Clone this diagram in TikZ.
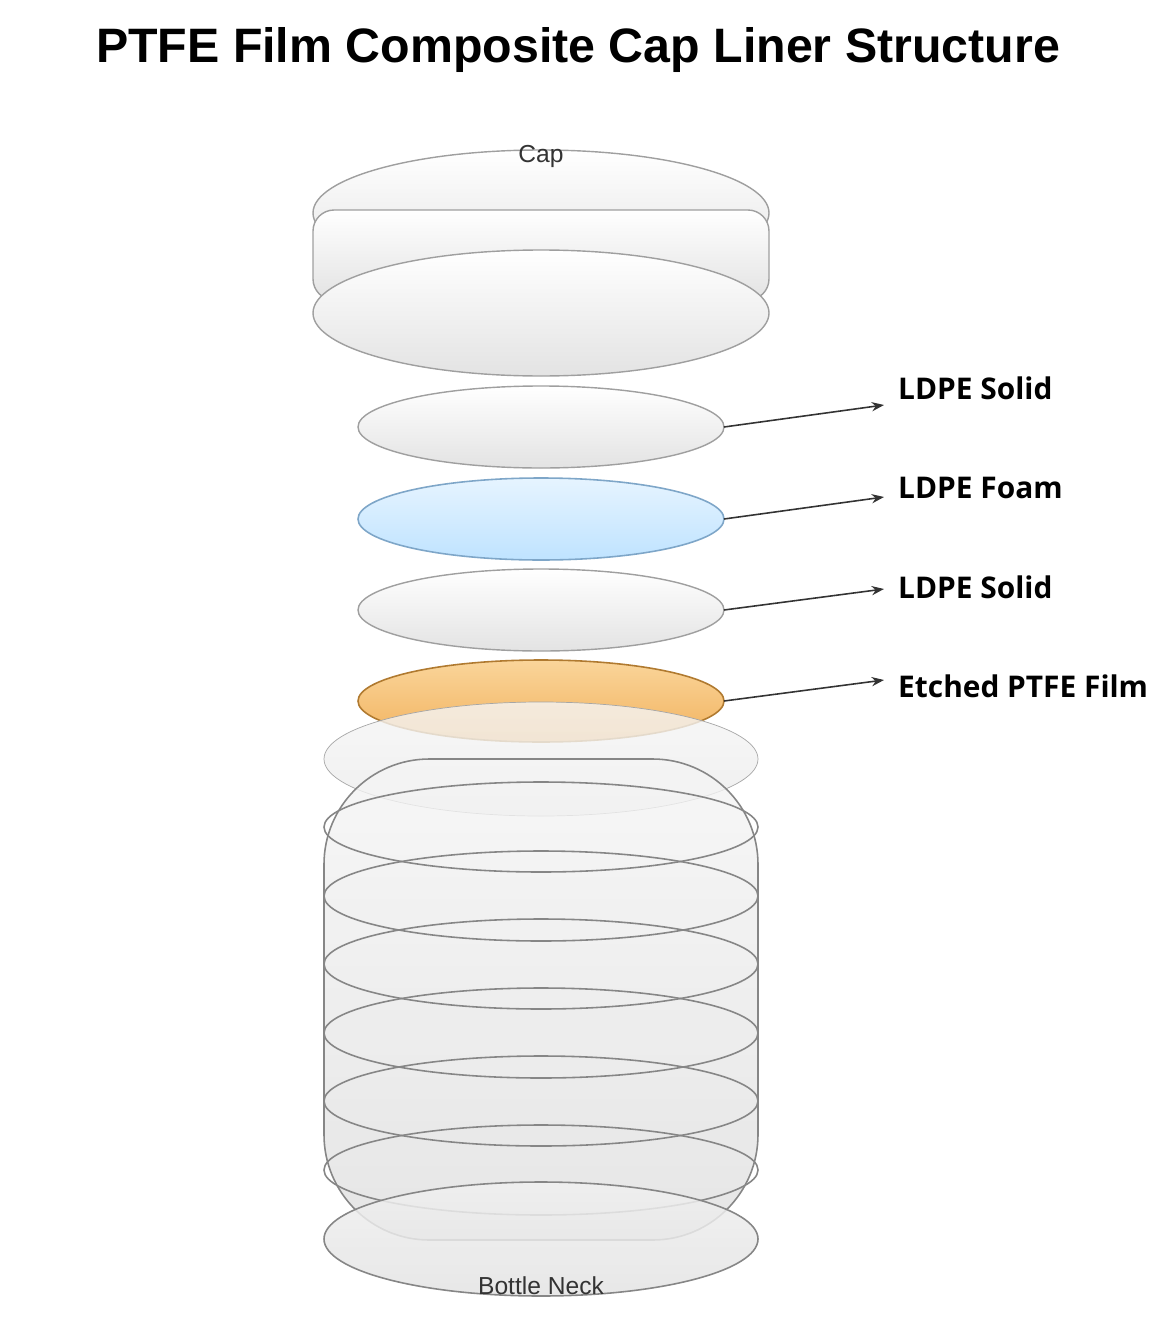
\documentclass[tikz,border=0pt]{standalone}
\usepackage{fontspec}
\setmainfont{Liberation Sans}
\newfontfamily\labelfont{Open Sans}
\usetikzlibrary{positioning, arrows.meta}
\definecolor{foamtop}{HTML}{E6F4FF}
\definecolor{foambot}{HTML}{BFE3FF}
\definecolor{foamline}{HTML}{7EA6C8}
\definecolor{ptfetop}{HTML}{FAD59A}
\definecolor{ptfebot}{HTML}{F2B25E}
\definecolor{ptfeline}{HTML}{B07A30}
\begin{document}
\begin{tikzpicture}[x=0.02cm, y=-0.02cm,
    disk/.style={draw=gray!75, line width=0.8pt, top color=white, bottom color=gray!22},
    neck/.style={draw=gray!95, line width=0.9pt},
    layer/.style={font=\labelfont\bfseries\fontsize{17}{20}\selectfont, anchor=west},
    pointer/.style={-{Stealth[length=7pt]}, draw=black!80, line width=0.9pt}
  ]
  \useasboundingbox (0,0) rectangle (1162,1318);
  \node[font=\bfseries\fontsize{27.5}{32}\selectfont] (title) at (578,50) {PTFE Film Composite Cap Liner Structure};

  % cap
  \draw[disk] (541,213) ellipse (228 and 63);
  \draw[disk, rounded corners=12] (313,210) rectangle (769,300);
  \draw[disk] (541,313) ellipse (228 and 63);
  \node[font=\fontsize{14}{16}\selectfont, text=black!80] (cap) at (541,156) {Cap};

  % liner layers
  \draw[disk] (541,427) ellipse (183 and 41);
  \draw[draw=foamline, line width=0.9pt, top color=foamtop, bottom color=foambot] (541,519) ellipse (183 and 41);
  \draw[disk] (541,610) ellipse (183 and 41);
  \draw[draw=ptfeline, line width=0.9pt, top color=ptfetop, bottom color=ptfebot] (541,701) ellipse (183 and 41);
  \coordinate (d1) at (724,427);
  \coordinate (d2) at (724,519);
  \coordinate (d3) at (724,610);
  \coordinate (d4) at (724,701);
  \coordinate (t1) at (884,405);
  \coordinate (t2) at (884,497);
  \coordinate (t3) at (884,589);
  \coordinate (t4) at (884,680);

  \node[layer] (solidA) at (892,388) {LDPE Solid};
  \node[layer] (foam) at (892,488) {LDPE Foam};
  \node[layer] (solidB) at (892,587) {LDPE Solid};
  \node[layer] (ptfe) at (892,686) {Etched PTFE Film};
  \draw[pointer] (d1) -- (t1);
  \draw[pointer] (d2) -- (t2);
  \draw[pointer] (d3) -- (t3);
  \draw[pointer] (d4) -- (t4);

  % bottle neck
  \draw[draw=gray!70, top color=gray!8, bottom color=gray!15, fill opacity=0.8] (541,759) ellipse (217 and 57);
  \draw[neck, top color=gray!8, bottom color=gray!25, fill opacity=0.8, rounded corners=60] (324,759) rectangle (758,1240);
  \foreach \y in {827,896,964,1033,1101,1170}
    \draw[neck] (541,\y) ellipse (217 and 45);
  \draw[neck, top color=gray!12, bottom color=gray!22, fill opacity=0.85] (541,1239) ellipse (217 and 57);
  \node[font=\fontsize{14}{16}\selectfont, text=black!80] (neckname) at (541,1286) {Bottle Neck};
\end{tikzpicture}
\end{document}
